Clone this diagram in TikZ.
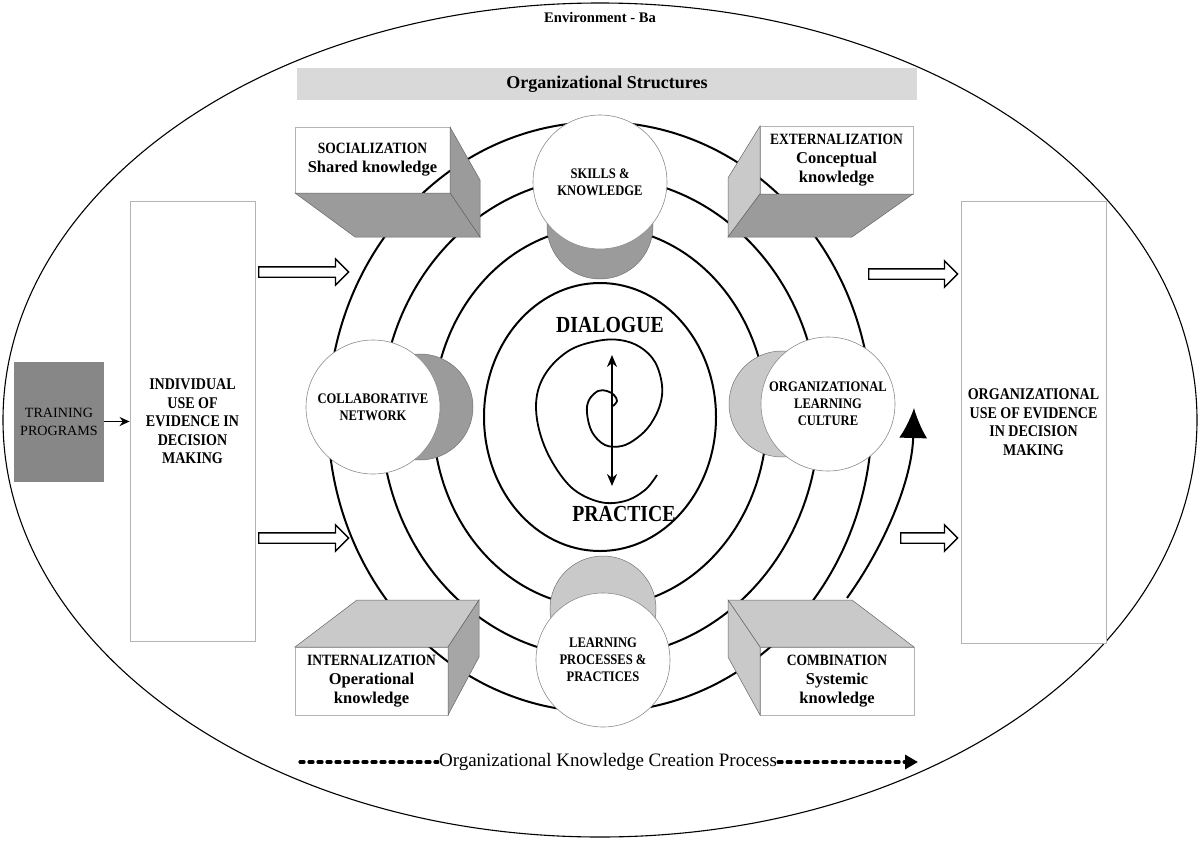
\documentclass[tikz,border=0pt]{standalone}
\usepackage{fontspec}
\setmainfont{Liberation Serif}
\newfontfamily\capsfont{Liberation Serif}[FakeStretch=0.86]
\usetikzlibrary{arrows.meta,shapes.arrows}
\definecolor{darkside}{HTML}{9B9B9B}
\definecolor{midside}{HTML}{A6A6A6}
\definecolor{lightside}{HTML}{C9C9C9}
\definecolor{trainfill}{HTML}{878787}
\definecolor{barfill}{HTML}{D9D9D9}
\definecolor{edgegray}{HTML}{B4B4B4}
\tikzset{
  ring/.style={line width=2pt},
  frontbox/.style={draw=edgegray, line width=0.8pt, fill=white, inner sep=0pt, outer sep=0pt,
    align=center, font=\bfseries\fontsize{16.5}{19}\selectfont},
  sideface/.style={draw=black!60, line width=0.5pt},
  cylback/.style={draw=black!55, line width=0.5pt},
  cylface/.style={circle, draw=black!45, line width=0.6pt, fill=white, minimum size=134pt,
    inner sep=0pt, align=center, font=\capsfont\bfseries\fontsize{14.6}{17}\selectfont},
  bigbox/.style={draw=edgegray, line width=0.8pt, fill=white, align=center,
    font=\capsfont\bfseries\fontsize{16.3}{18.5}\selectfont},
  hollow/.style={single arrow, draw, line width=1.4pt, fill=white, inner sep=4.5pt,
    single arrow head extend=8pt, single arrow tip angle=90, single arrow head indent=0pt, anchor=west},
  bigword/.style={font=\capsfont\bfseries\fontsize{23}{26}\selectfont},
  procline/.style={line width=3.2pt, line cap=round, dash pattern=on 4pt off 5pt},
}
\newcommand{\kmtitle}[1]{{\capsfont\fontsize{15.7}{19}\selectfont #1}}
\begin{document}
\begin{tikzpicture}[x=1pt,y=-1pt]
\useasboundingbox (0,0) rectangle (1200,841);
\draw[line width=1.1pt] (600,420) ellipse [x radius=597, y radius=417];
\node[font=\bfseries\fontsize{14.6}{17}\selectfont] (env) at (600,18) {Environment - Ba};
\node[fill=barfill, minimum width=620pt, minimum height=32pt, font=\bfseries\fontsize{18}{20}\selectfont] (orgstruct) at (607,84) {Organizational Structures};

% the four knowledge boxes
\node[frontbox, minimum width=155pt, minimum height=66pt] (social) at (372.5,160) {\kmtitle{SOCIALIZATION}\\Shared knowledge};
\node[frontbox, minimum width=153pt, minimum height=68pt] (extern) at (836.5,160) {\kmtitle{EXTERNALIZATION}\\Conceptual\\knowledge};
\node[frontbox, minimum width=153pt, minimum height=68pt] (intern) at (371.5,681) {\kmtitle{INTERNALIZATION}\\Operational\\knowledge};
\node[frontbox, minimum width=154pt, minimum height=68pt] (combin) at (837,681) {\kmtitle{COMBINATION}\\Systemic\\knowledge};

\foreach \a/\b in {272/295,219/240,167/190,116/134}
  \draw[ring] (600,417) ellipse [x radius=\a, y radius=\b];

\filldraw[sideface, fill=darkside] (social.north east) -- (480,180) -- (480,237) -- (social.south east) -- cycle;
\filldraw[sideface, fill=darkside] (social.south west) -- (social.south east) -- (480,237) -- (355,237) -- cycle;
\filldraw[sideface, fill=lightside] (extern.north west) -- (728,178) -- (728,237) -- (extern.south west) -- cycle;
\filldraw[sideface, fill=darkside] (extern.south west) -- (extern.south east) -- (852,237) -- (728,237) -- cycle;
\filldraw[sideface, fill=lightside] (intern.north west) -- (357,600) -- (479,600) -- (intern.north east) -- cycle;
\filldraw[sideface, fill=midside] (intern.north east) -- (479,600) -- (479,657) -- (intern.south east) -- cycle;
\filldraw[sideface, fill=lightside] (combin.north west) -- (728,600) -- (852,600) -- (combin.north east) -- cycle;
\filldraw[sideface, fill=lightside] (combin.north west) -- (728,600) -- (728,657) -- (combin.south west) -- cycle;

% cylinders
\filldraw[cylback, fill=darkside] (536.5,160.7) -- (549.8,209.1) -- (650.2,209.1) -- (663.5,160.7) -- cycle;
\filldraw[cylback, fill=darkside] (600,226) circle [radius=53];
\node[cylface] (skills) at (600,182) {SKILLS \&\\KNOWLEDGE};

\filldraw[cylback, fill=lightside] (538.6,678.4) -- (552,623.5) -- (654,623.5) -- (667.4,678.4) -- cycle;
\filldraw[cylback, fill=lightside] (603,609) circle [radius=53];
\node[cylface] (learnproc) at (603,660) {LEARNING\\PROCESSES \&\\PRACTICES};

\filldraw[cylback, fill=darkside] (353,343) -- (404.2,356.4) -- (404.2,457.6) -- (353,471) -- cycle;
\filldraw[cylback, fill=darkside] (420,407) circle [radius=53];
\node[cylface] (collab) at (373,407) {COLLABORATIVE\\NETWORK};

\filldraw[cylback, fill=lightside] (848.4,340.2) -- (798.1,353.5) -- (798.1,454.5) -- (848.4,467.8) -- cycle;
\filldraw[cylback, fill=lightside] (782,404) circle [radius=53];
\node[cylface] (orgcult) at (828,404) {ORGANIZATIONAL\\LEARNING\\CULTURE};

% centre
\node[bigword] (dia) at (610,325) {DIALOGUE};
\node[bigword] (prac) at (624,514) {PRACTICE};
\draw[line width=1.8pt] plot[smooth, tension=0.6] coordinates {(613,406) (617,401) (614,395) (607,391) (598,391) (589,400) (587,413) (592,432) (605,445) (622,446) (637,438) (650,425) (660,405) (662,385) (655,362) (640,347) (620,340) (597,341) (570,350) (548,370) (537,395) (538,425) (550,458) (572,488) (600,502) (625,501) (645,490) (657,475)};
\coordinate (dtop) at (612,355);
\coordinate (dbot) at (612,486);
\draw[line width=1.8pt, {Stealth[length=12pt,width=10pt]}-{Stealth[length=12pt,width=10pt]}] (dtop) -- (dbot);

% sides
\node[fill=trainfill, minimum width=90pt, minimum height=120pt, align=center, font=\fontsize{14.1}{18}\selectfont] (train) at (59,421.5) {TRAINING\\PROGRAMS};
\node[bigbox, minimum width=125pt, minimum height=440pt] (indiv) at (192.5,421.5) {INDIVIDUAL\\USE OF\\EVIDENCE IN\\DECISION\\MAKING};
\node[bigbox, minimum width=145pt, minimum height=442pt] (orguse) at (1033.5,422) {ORGANIZATIONAL\\USE OF EVIDENCE\\IN DECISION\\MAKING};
\draw[line width=1.5pt, -{Stealth[length=10pt,width=9pt]}] (train) -- (indiv);

\node[hollow, minimum height=90pt] (inup) at (258,272) {};
\node[hollow, minimum height=90pt] (indown) at (258,538) {};
\node[hollow, minimum height=89pt] (outup) at (868,274) {};
\node[hollow, minimum height=57pt] (outdown) at (900,538) {};

\coordinate (cs) at (847,598);
\coordinate (ce) at (914,408);
\draw[line width=2pt, -{Latex[length=30pt,width=28pt]}] (cs) .. controls (885,545) and (912,480) .. (ce);

% bottom
\node[font=\fontsize{19}{22}\selectfont, inner sep=1pt] (proc) at (608,762) {Organizational Knowledge Creation Process};
\coordinate (pl) at (300,762);
\coordinate (pr) at (918,762);
\draw[procline] (pl) -- (proc.west);
\draw[procline, -{Triangle[length=13pt,width=14pt]}] (proc.east) -- (pr);
\end{tikzpicture}
\end{document}
